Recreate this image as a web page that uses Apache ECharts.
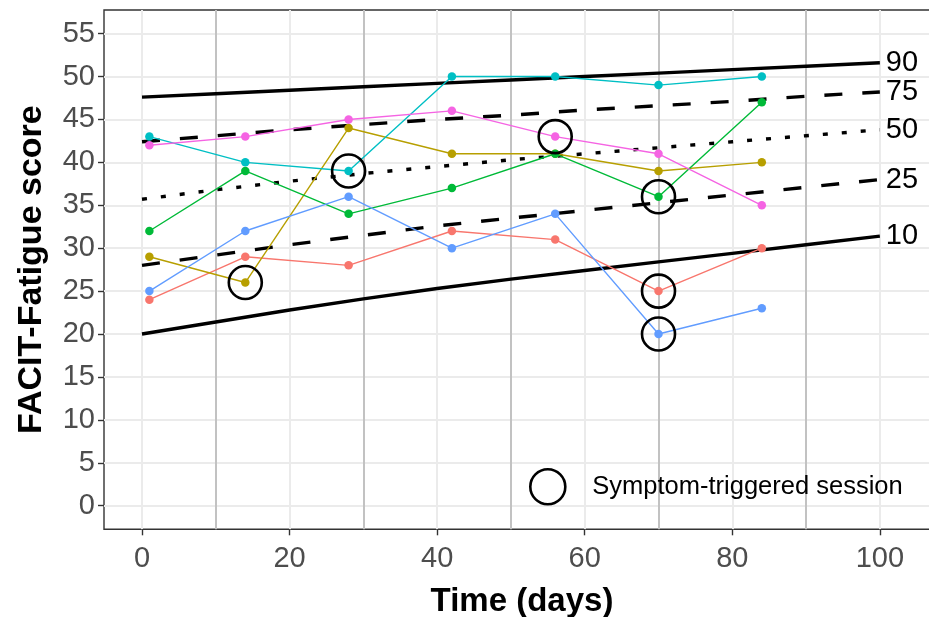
<!DOCTYPE html>
<html><head><meta charset="utf-8">
<script src="https://cdn.jsdelivr.net/npm/echarts@6/dist/echarts.min.js"></script>
<style>html,body{margin:0;padding:0;background:#fff}#c{width:929px;height:617px}</style>
</head><body><div id="c"></div>
<script>
// ---- data ----
const days = [1, 14, 28, 42, 56, 70, 84];
const patientRed    = [24, 29, 28, 32, 31, 25, 30];
const patientOlive  = [29, 26, 44, 41, 41, 39, 40];
const patientGreen  = [32, 39, 34, 37, 41, 36, 47];
const patientCyan   = [43, 40, 39, 50, 50, 49, 50];
const patientBlue   = [25, 32, 36, 30, 34, 20, 23];
const patientPink   = [42, 43, 45, 46, 43, 41, 35];
const patientNames  = ['P1', 'P2', 'P3', 'P4', 'P5', 'P6'];

const pctDays = [0, 10, 20, 30, 40, 50, 60, 70, 80, 90, 100];
const p90 = [47.6, 48.0, 48.4, 48.8, 49.2, 49.6, 50.0, 50.4, 50.8, 51.2, 51.6];
const p75 = [42.4, 43.1, 43.8, 44.4, 45.0, 45.5, 46.1, 46.6, 47.1, 47.7, 48.2];
const p50 = [35.7, 36.8, 37.8, 38.7, 39.5, 40.3, 41.0, 41.7, 42.4, 43.1, 43.8];
const p25 = [28.0, 29.2, 30.4, 31.5, 32.6, 33.5, 34.4, 35.3, 36.2, 37.1, 38.0];
const p10 = [20.0, 21.4, 22.8, 24.1, 25.3, 26.4, 27.4, 28.4, 29.4, 30.4, 31.4];
const pctNames = ['90', '75', '50', '25', '10'];

const triggerDays   = [14, 28, 56, 70, 70, 70];
const triggerScores = [26, 39, 43, 36, 25, 20];

const xTicks = [0, 20, 40, 60, 80, 100];
const xMinorLines = [10, 30, 50, 70, 90];
const yTicks = [0, 5, 10, 15, 20, 25, 30, 35, 40, 45, 50, 55];

// ---- chart ----
const FONT = '"Liberation Sans", Arial, sans-serif';
const zip = (xs, ys) => xs.map((x, i) => [x, ys[i]]);
const patientColors = ['#F8766D', '#B79F00', '#00BA38', '#00BFC4', '#619CFF', '#F564E3'];
const patients = [patientRed, patientOlive, patientGreen, patientCyan, patientBlue, patientPink];
const pcts = [p90, p75, p50, p25, p10];
const pctTypes = ['solid', [18, 20], [5, 14], [18, 20], 'solid'];

function gridSeries(items, color, width) {
  return {
    type: 'line', data: [], silent: true, z: 0,
    markLine: {
      z: 0, silent: true, symbol: ['none', 'none'], animation: false,
      label: { show: false },
      lineStyle: { type: 'solid', color: color, width: width },
      emphasis: { disabled: true },
      data: items
    }
  };
}

const series = [];
series.push(gridSeries(yTicks.map(v => ({ yAxis: v })), '#EBEBEB', 2));
series.push(gridSeries(xTicks.map(v => ({ xAxis: v })), '#EBEBEB', 2));
series.push(gridSeries(xMinorLines.map(v => ({ xAxis: v })), '#C2C2C2', 2));

pcts.forEach((p, i) => {
  series.push({
    type: 'line', name: pctNames[i], data: zip(pctDays, p), showSymbol: false, z: 3,
    lineStyle: { color: '#000', width: 3.4, type: pctTypes[i], cap: 'butt' },
    endLabel: { show: true, formatter: '{a}', color: '#000', fontSize: 29, fontFamily: FONT, distance: 6 },
    animation: false
  });
});

patients.forEach((p, i) => {
  series.push({
    type: 'line', name: patientNames[i], data: zip(days, p), z: 4,
    symbol: 'circle', symbolSize: 8.5, showSymbol: true,
    lineStyle: { color: patientColors[i], width: 1.4 },
    itemStyle: { color: patientColors[i] },
    animation: false
  });
});

series.push({
  type: 'scatter', name: 'Symptom-triggered session', data: zip(triggerDays, triggerScores), z: 6,
  symbol: 'circle', symbolSize: 33,
  itemStyle: { color: 'rgba(0,0,0,0)', borderColor: '#000', borderWidth: 2.6, opacity: 1 },
  animation: false
});

const chart = echarts.init(document.getElementById('c'), null, { renderer: 'canvas' });
chart.setOption({
  animation: false,
  backgroundColor: '#fff',
  grid: { left: 104, top: 10, width: 836, height: 519.3, show: true, borderColor: '#333', borderWidth: 1.4,
          backgroundColor: '#fff', containLabel: false, outerBoundsMode: 'none' },
  xAxis: {
    type: 'value', min: -5.15, max: 108.15,
    name: 'Time (days)', nameLocation: 'middle', nameGap: 56,
    nameTextStyle: { fontFamily: FONT, fontSize: 33, fontWeight: 'bold', color: '#000' },
    axisLine: { show: false, onZero: false },
    splitLine: { show: false },
    axisTick: { show: true, length: 6, lineStyle: { color: '#333', width: 1.4 }, customValues: xTicks },
    axisLabel: { customValues: xTicks, fontFamily: FONT, fontSize: 29, color: '#4D4D4D', margin: 15 }
  },
  yAxis: {
    type: 'value', min: -2.75, max: 57.75,
    name: 'FACIT-Fatigue score', nameLocation: 'middle', nameGap: 55,
    nameTextStyle: { fontFamily: FONT, fontSize: 34, fontWeight: 'bold', color: '#000' },
    axisLine: { show: false, onZero: false },
    splitLine: { show: false },
    axisTick: { show: true, length: 6, lineStyle: { color: '#333', width: 1.4 }, customValues: yTicks },
    axisLabel: { customValues: yTicks, fontFamily: FONT, fontSize: 29, color: '#4D4D4D', margin: 9 }
  },
  legend: {
    left: 529, top: 468, padding: 0, selectedMode: false,
    itemWidth: 35, itemHeight: 35,
    data: [{ name: 'Symptom-triggered session', icon: 'circle',
             itemStyle: { color: 'rgba(0,0,0,0)', borderColor: '#000', borderWidth: 2.6 } }],
    textStyle: { fontFamily: FONT, fontSize: 25.5, color: '#000', padding: [0, 0, 0, 22] }
  },
  series: series
});
</script></body></html>
